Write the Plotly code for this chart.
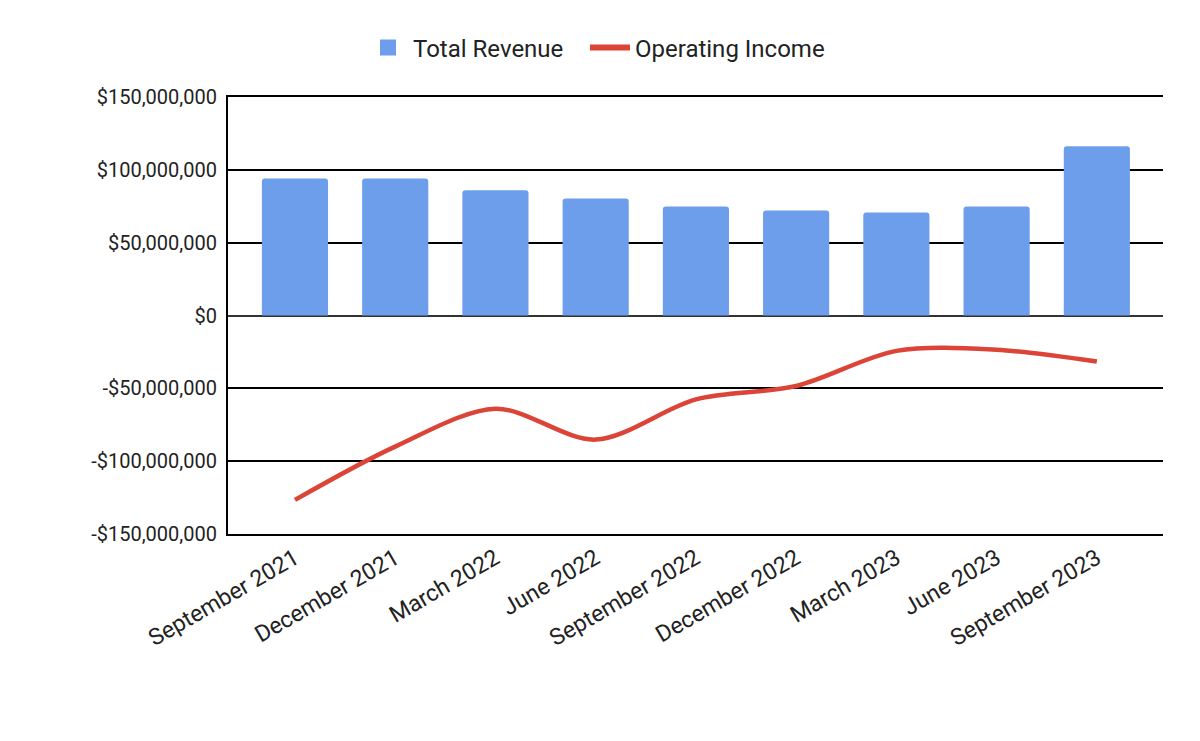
import plotly.graph_objects as go

quarters = ["September 2021", "December 2021", "March 2022", "June 2022", "September 2022",
            "December 2022", "March 2023", "June 2023", "September 2023"]
total_revenue = [94.1e6, 94.1e6, 85.9e6, 80.3e6, 74.8e6, 72.1e6, 70.7e6, 74.8e6, 116.2e6]
operating_income = [-126.6e6, -90.0e6, -64.0e6, -85.2e6, -57.6e6, -48.4e6, -24.3e6, -23.5e6, -31.6e6]

y_tickvals = [-150e6, -100e6, -50e6, 0, 50e6, 100e6, 150e6]
y_ticktext = ["-$150,000,000", "-$100,000,000", "-$50,000,000", "$0",
              "$50,000,000", "$100,000,000", "$150,000,000"]

BAR_COLOR = "#6d9eeb"
LINE_COLOR = "#db4437"

fig = go.Figure()
fig.add_trace(go.Bar(
    x=quarters, y=total_revenue, name="Total Revenue", showlegend=False,
    marker=dict(color=BAR_COLOR, cornerradius=3, line=dict(width=0)),
))
fig.add_trace(go.Scatter(
    x=quarters, y=operating_income, name="Operating Income", mode="lines", showlegend=False,
    line=dict(color=LINE_COLOR, width=4.5, shape="spline", smoothing=0.9),
))
# legend-only entries
fig.add_trace(go.Scatter(
    x=[None], y=[None], name="Total Revenue", mode="markers", legend="legend",
    marker=dict(symbol="square", size=22, color=BAR_COLOR),
))
fig.add_trace(go.Scatter(
    x=[None], y=[None], name="Operating Income", mode="lines", legend="legend2",
    line=dict(color=LINE_COLOR, width=6),
))

legend_common = dict(orientation="h", xanchor="left", xref="container",
                     y=1 - 48 / 741, yanchor="middle", yref="container",
                     font=dict(size=24, color="#222222"),
                     itemwidth=40, itemsizing="trace", bgcolor="rgba(0,0,0,0)")

fig.update_layout(
    width=1200, height=741,
    margin=dict(l=228, r=37, t=97, b=207),
    paper_bgcolor="white", plot_bgcolor="white",
    font=dict(family="Roboto", size=20, color="#222222"),
    bargap=0.34,
    showlegend=True,
    legend=dict(x=363 / 1200, **legend_common),
    legend2=dict(x=585 / 1200, **legend_common),
    xaxis=dict(
        range=[-0.668, 8.66],
        tickangle=-30, tickfont=dict(size=23, color="#222222"),
        showgrid=False, showline=True, linecolor="black", linewidth=2, mirror=True,
        ticks="",
    ),
    yaxis=dict(
        range=[-150e6, 150e6], tickvals=y_tickvals, ticktext=y_ticktext,
        tickfont=dict(size=20, color="#222222"),
        showgrid=True, gridcolor="black", gridwidth=2,
        zeroline=True, zerolinecolor="#333333", zerolinewidth=2,
        showline=True, linecolor="black", linewidth=2,
        ticks="", ticklabelstandoff=5,
    ),
)

fig.write_html("out.html")
